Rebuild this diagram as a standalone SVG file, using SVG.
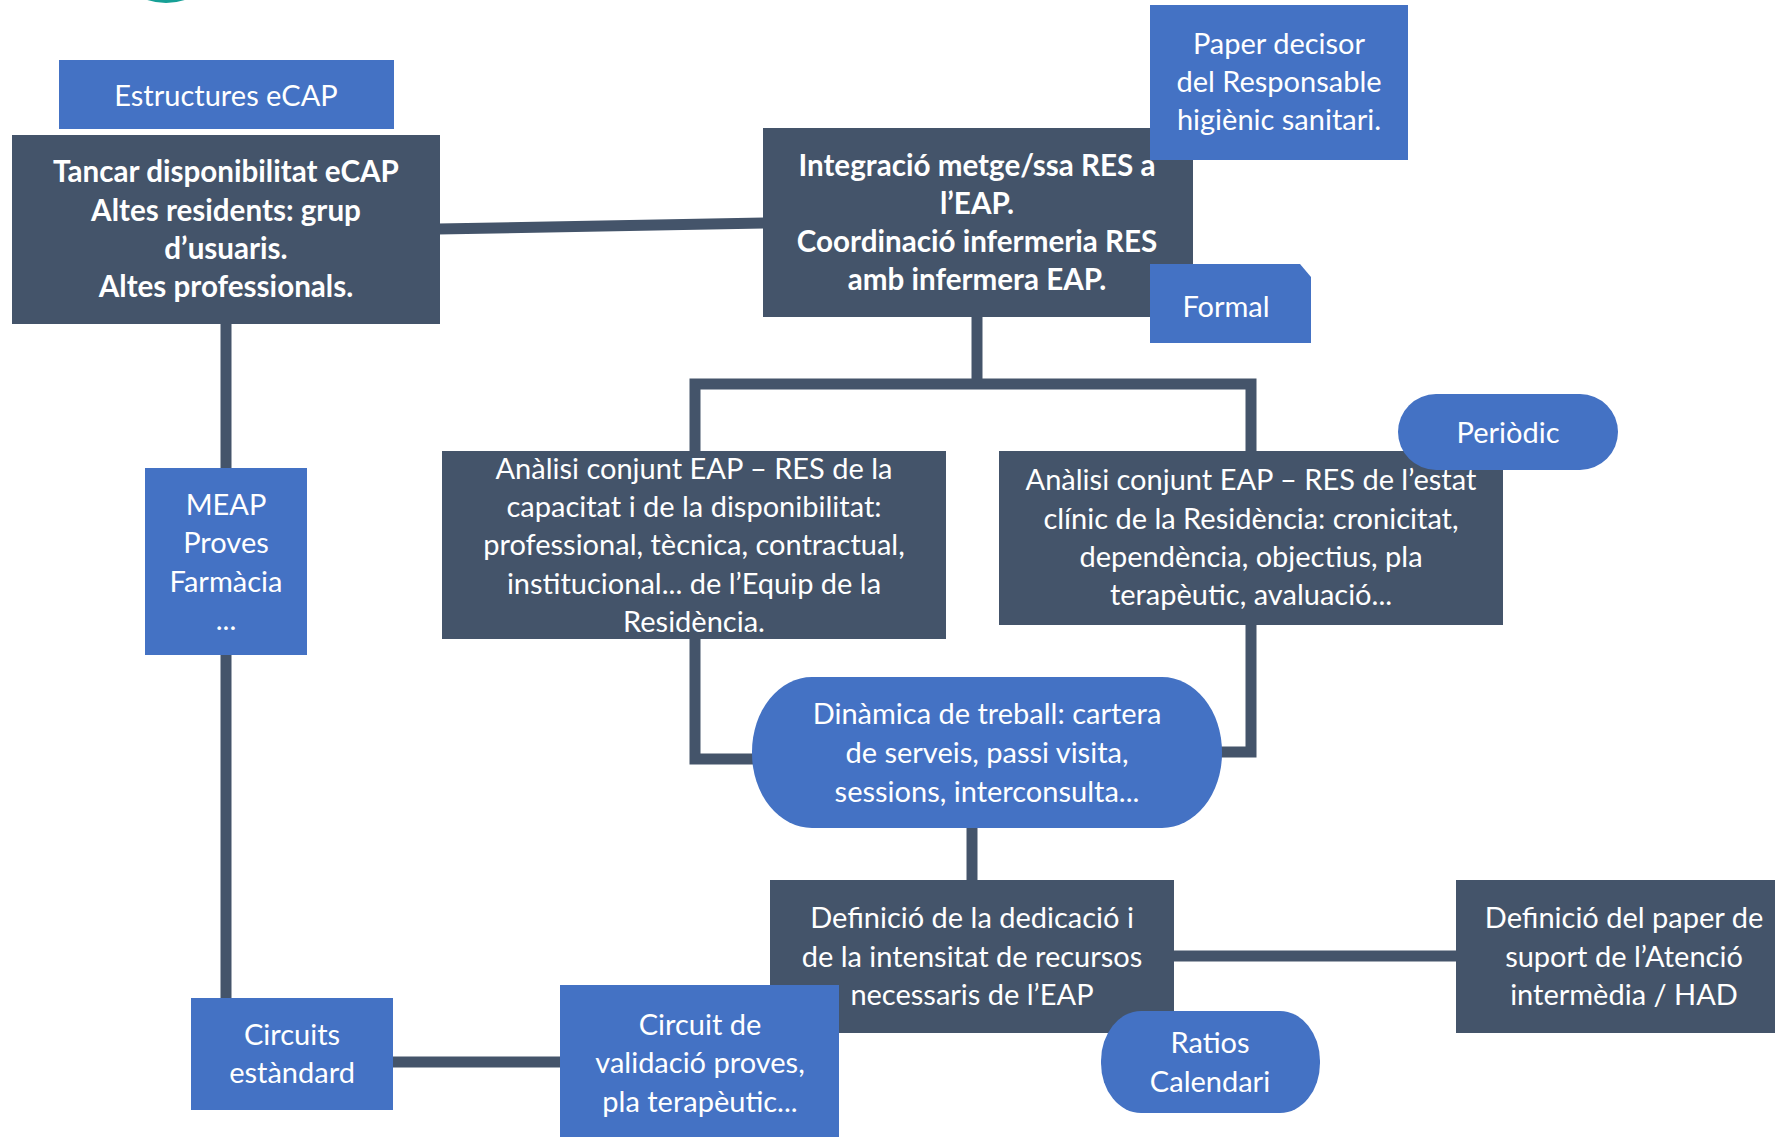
<svg xmlns="http://www.w3.org/2000/svg" width="1775" height="1137" viewBox="0 0 1775 1137">
<style>
.dark{fill:#44546A}
.blue{fill:#4472C4}
.t{font-family:Lato,"Open Sans","Liberation Sans",sans-serif;font-size:29px;fill:#FFFFFF;text-anchor:middle}
.b{font-weight:bold;font-size:29.6px}
.c{stroke:#44546A;stroke-width:11;fill:none;stroke-linejoin:miter}
</style>
<rect width="1775" height="1137" fill="#FFFFFF"/>
<circle cx="166" cy="-57" r="60" fill="#16A096"/>
<g id="connectors">
<line class="c" x1="438" y1="229" x2="766" y2="223" stroke-width="12"/>
<line class="c" x1="226" y1="320" x2="226" y2="1000"/>
<polyline class="c" points="977,315 977,384"/>
<polyline class="c" points="695,455 695,384 1251,384 1251,455"/>
<polyline class="c" points="695,636 695,759 770,759"/>
<polyline class="c" points="1251,622 1251,752 1210,752"/>
<line class="c" x1="972" y1="825" x2="972" y2="883"/>
<line class="c" x1="1170" y1="956" x2="1460" y2="956" stroke-width="12"/>
<line class="c" x1="390" y1="1062" x2="563" y2="1062" stroke-width="12"/>
</g>
<g id="estructures">
<rect class="blue" x="59" y="60" width="335" height="69"/>
<text class="t" x="226" y="106">Estructures eCAP</text>
</g>
<g id="tancar">
<rect class="dark" x="12" y="135" width="428" height="189"/>
<text class="t b" x="226" y="182">Tancar disponibilitat eCAP</text>
<text class="t b" x="226" y="221">Altes residents: grup</text>
<text class="t b" x="226" y="259">d’usuaris.</text>
<text class="t b" x="226" y="297">Altes professionals.</text>
</g>
<g id="integracio">
<rect class="dark" x="763" y="128" width="430" height="189"/>
<text class="t b" x="977" y="176">Integració metge/ssa RES a</text>
<text class="t b" x="977" y="214">l’EAP.</text>
<text class="t b" x="977" y="252">Coordinació infermeria RES</text>
<text class="t b" x="977" y="290">amb infermera EAP.</text>
</g>
<g id="paper-decisor">
<rect class="blue" x="1150" y="5" width="258" height="155"/>
<text class="t" x="1279" y="54">Paper decisor</text>
<text class="t" x="1279" y="92">del Responsable</text>
<text class="t" x="1279" y="130">higiènic sanitari.</text>
</g>
<g id="formal">
<path class="blue" d="M1150,264 H1300 L1311,277 V343 H1150 Z"/>
<text class="t" x="1226" y="317">Formal</text>
</g>
<g id="analisi-capacitat">
<rect class="dark" x="442" y="451" width="504" height="188"/>
<text class="t" x="694" y="479">Anàlisi conjunt EAP – RES de la</text>
<text class="t" x="694" y="517">capacitat i de la disponibilitat:</text>
<text class="t" x="694" y="555">professional, tècnica, contractual,</text>
<text class="t" x="694" y="594">institucional... de l’Equip de la</text>
<text class="t" x="694" y="632">Residència.</text>
</g>
<g id="analisi-clinic">
<rect class="dark" x="999" y="451" width="504" height="174"/>
<text class="t" x="1251" y="490">Anàlisi conjunt EAP – RES de l’estat</text>
<text class="t" x="1251" y="529">clínic de la Residència: cronicitat,</text>
<text class="t" x="1251" y="567">dependència, objectius, pla</text>
<text class="t" x="1251" y="605">terapèutic, avaluació...</text>
</g>
<g id="periodic">
<rect class="blue" x="1398" y="394" width="220" height="76" rx="38" ry="38"/>
<text class="t" x="1508" y="443">Periòdic</text>
</g>
<g id="dinamica">
<rect class="blue" x="752" y="677" width="470" height="151" rx="60" ry="75"/>
<text class="t" x="987" y="724">Dinàmica de treball: cartera</text>
<text class="t" x="987" y="763">de serveis, passi visita,</text>
<text class="t" x="987" y="802">sessions, interconsulta...</text>
</g>
<g id="definicio-dedicacio">
<rect class="dark" x="770" y="880" width="404" height="153"/>
<text class="t" x="972" y="928">Definició de la dedicació i</text>
<text class="t" x="972" y="967">de la intensitat de recursos</text>
<text class="t" x="972" y="1005">necessaris de l’EAP</text>
</g>
<g id="definicio-paper">
<rect class="dark" x="1456" y="880" width="340" height="153"/>
<text class="t" x="1624" y="928">Definició del paper de</text>
<text class="t" x="1624" y="967">suport de l’Atenció</text>
<text class="t" x="1624" y="1005">intermèdia / HAD</text>
</g>
<g id="ratios">
<rect class="blue" x="1101" y="1011" width="219" height="102" rx="40" ry="50"/>
<text class="t" x="1210" y="1053">Ratios</text>
<text class="t" x="1210" y="1092">Calendari</text>
</g>
<g id="circuit-validacio">
<rect class="blue" x="560" y="985" width="279" height="160"/>
<text class="t" x="700" y="1035">Circuit de</text>
<text class="t" x="700" y="1073">validació proves,</text>
<text class="t" x="700" y="1112">pla terapèutic...</text>
</g>
<g id="circuits-estandard">
<rect class="blue" x="191" y="998" width="202" height="112"/>
<text class="t" x="292" y="1045">Circuits</text>
<text class="t" x="292" y="1083">estàndard</text>
</g>
<g id="meap">
<rect class="blue" x="145" y="468" width="162" height="187"/>
<text class="t" x="226" y="515">MEAP</text>
<text class="t" x="226" y="553">Proves</text>
<text class="t" x="226" y="592">Farmàcia</text>
<text class="t" x="226" y="630">...</text>
</g>
</svg>
